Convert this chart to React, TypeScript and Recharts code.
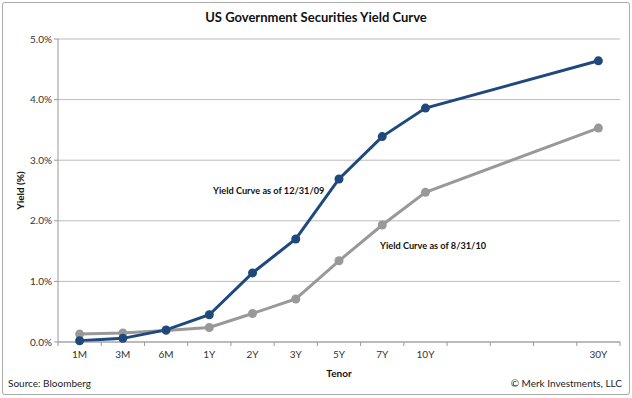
import { LineChart, Line, XAxis, YAxis, CartesianGrid } from 'recharts';

// tenors, with empty slots between 10Y and 30Y like the original sheet
const tenors = ['1M', '3M', '6M', '1Y', '2Y', '3Y', '5Y', '7Y', '10Y', '', '', '', '30Y'];
const yieldDec09 = [0.02, 0.06, 0.2, 0.45, 1.14, 1.7, 2.69, 3.39, 3.86, null, null, null, 4.64];
const yieldAug10 = [0.13, 0.15, 0.19, 0.24, 0.47, 0.71, 1.34, 1.93, 2.47, null, null, null, 3.53];
const yTicks = [0, 1, 2, 3, 4, 5];

const data = tenors.map((t, i) => ({ tenor: t, dec09: yieldDec09[i], aug10: yieldAug10[i] }));

const BLUE = '#1f497d';
const GRAY = '#999999';
const FONT = 'Lato, "Open Sans", sans-serif';
const PLOT_W = 562;
const HALF = PLOT_W / tenors.length / 2;

// Excel-style category tick: marks sit between categories, label in the middle
function TenorTick(props: any) {
  const { x, y, payload, index } = props;
  const top = y - 9;
  return (
    <g>
      <line x1={x - HALF} x2={x - HALF} y1={top} y2={top + 4} stroke="#999" />
      {index === tenors.length - 1 && <line x1={x + HALF} x2={x + HALF} y1={top} y2={top + 4} stroke="#999" />}
      <text x={x} y={y} dy="0.71em" textAnchor="middle" fontSize={10} fill="#333" fontFamily={FONT}>
        {payload.value}
      </text>
    </g>
  );
}

export default function App() {
  return (
    <div style={{ position: 'absolute', left: 0, top: 0, width: 632, height: 398, background: '#fff', fontFamily: FONT }}>
      <div
        style={{
          position: 'absolute', left: 2, top: 2, width: 626, height: 391,
          border: '1px solid #aaa', borderRadius: 3,
        }}
      />
      <div style={{ position: 'absolute', left: 0, width: 632, top: 9, textAlign: 'center', fontSize: 13, fontWeight: 700, color: '#111' }}>
        US Government Securities Yield Curve
      </div>
      <LineChart width={632} height={398} data={data} margin={{ top: 39, right: 12, left: 0, bottom: 0 }}>
        <CartesianGrid vertical={false} stroke="#bbb" />
        <XAxis
          dataKey="tenor"
          padding={{ left: HALF, right: HALF }}
          height={56}
          interval={0}
          tickLine={false}
          tickSize={4}
          tickMargin={5}
          axisLine={{ stroke: '#999' }}
          tick={<TenorTick />}
          label={{ value: 'Tenor', position: 'insideTop', offset: 28, fontSize: 10, fontWeight: 700, fill: '#111', fontFamily: FONT }}
        />
        <YAxis
          width={58}
          domain={[0, 5]}
          ticks={yTicks}
          tickFormatter={(v: number) => `${v.toFixed(1)}%`}
          tick={{ fontSize: 10, fill: '#333', fontFamily: FONT }}
          tickLine={{ stroke: '#999' }}
          tickSize={4}
          axisLine={{ stroke: '#999' }}
          label={{ value: 'Yield (%)', angle: -90, position: 'insideLeft', offset: 20, fontSize: 10, fontWeight: 700, fill: '#111', fontFamily: FONT, style: { textAnchor: 'middle' } }}
        />
        <Line
          type="linear"
          dataKey="aug10"
          stroke={GRAY}
          strokeWidth={3}
          connectNulls
          dot={{ r: 4.5, fill: GRAY, stroke: GRAY, strokeWidth: 0 }}
          isAnimationActive={false}
        />
        <Line
          type="linear"
          dataKey="dec09"
          stroke={BLUE}
          strokeWidth={3}
          connectNulls
          dot={{ r: 4.5, fill: BLUE, stroke: BLUE, strokeWidth: 0 }}
          isAnimationActive={false}
        />
      </LineChart>
      <div style={{ position: 'absolute', left: 213, top: 185, fontSize: 9.2, fontWeight: 700, color: '#111' }}>
        Yield Curve as of 12/31/09
      </div>
      <div style={{ position: 'absolute', left: 380, top: 240, fontSize: 9.2, fontWeight: 700, color: '#111' }}>
        Yield Curve as of 8/31/10
      </div>
      <div style={{ position: 'absolute', left: 8, top: 377, fontSize: 10, color: '#222' }}>Source: Bloomberg</div>
      <div style={{ position: 'absolute', right: 10, top: 377, fontSize: 10, color: '#222' }}>© Merk Investments, LLC</div>
    </div>
  );
}
